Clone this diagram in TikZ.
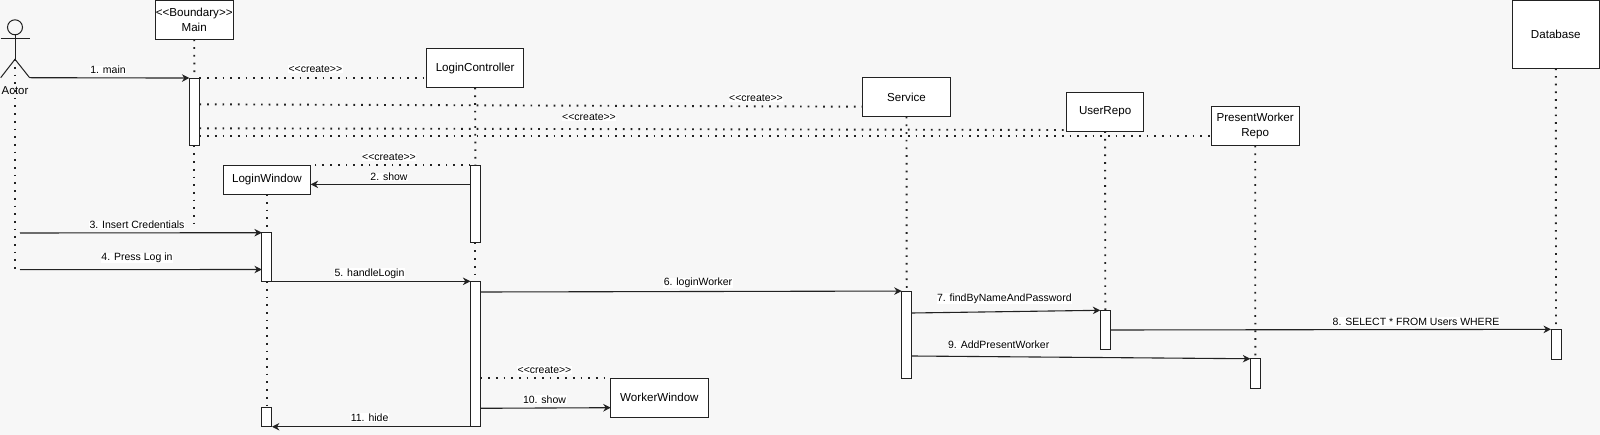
\documentclass[tikz,border=0pt]{standalone}
\usepackage{fontspec}
\setmainfont{Liberation Sans}[Ligatures=TeXOff]
\usetikzlibrary{arrows.meta}
\definecolor{paper}{HTML}{F7F7F7}
\definecolor{ink}{HTML}{222222}
\tikzset{
  objbox/.style={draw=ink,line width=1pt,fill=white,inner sep=0pt,outer sep=0pt,align=center,font=\fontsize{11.6}{14.6}\selectfont},
  actbox/.style={draw=ink,line width=1pt,fill=white,inner sep=0pt,outer sep=0pt,minimum width=10pt},
  msg/.style={draw=ink,line width=1.1pt,-{Stealth[length=7.5pt,width=7.5pt]}},
  life/.style={draw=ink,line width=1.9pt,dash pattern=on 1.7pt off 6pt},
  lbl/.style={fill=white,inner sep=0.5pt,font=\fontsize{10.5}{12}\selectfont}
}
\begin{document}
\begin{tikzpicture}[x=1pt,y=-1pt]
          \path[fill=paper] (0,0) rectangle (1600,435);
          \useasboundingbox (0,0) rectangle (1600,435);

          \node[objbox,minimum width=78pt,minimum height=39.5pt] (main) at (194.2,19.8) {<<Boundary>>\\Main};
          \node[objbox,minimum width=97.5pt,minimum height=39pt] (ctrl) at (475.1,68.2) {LoginController};
          \node[objbox,minimum width=87.6pt,minimum height=39pt] (service) at (906.5,97.2) {Service};
          \node[objbox,minimum width=77.7pt,minimum height=39pt] (userRepo) at (1105.1,111.8) {UserRepo};
          \node[objbox,minimum width=87.7pt,minimum height=39pt] (workerRepo) at (1255.2,126.2) {PresentWorker\\Repo};
          \node[objbox,minimum width=87pt,minimum height=68.3pt] (database) at (1555.8,34.2) {Database};
          \node[objbox,minimum width=87.5pt,minimum height=29.3pt] (loginWin) at (266.9,179.7) {LoginWindow};
          \node[objbox,minimum width=97.3pt,minimum height=39pt] (workerWin) at (659.4,397.5) {WorkerWindow};

          \node[actbox,minimum height=67.7pt] (mainAct) at (194.4,111.9) {};
          \node[actbox,minimum height=77.7pt] (ctrlActA) at (475.4,203.9) {};
          \node[actbox,minimum height=145.4pt] (ctrlActB) at (475.4,354) {};
          \node[actbox,minimum height=48.6pt] (winActA) at (266.9,257) {};
          \node[actbox,minimum height=19.4pt] (winActB) at (266.9,417) {};
          \node[actbox,minimum height=87.3pt] (serviceAct) at (906.7,334.7) {};
          \node[actbox,minimum height=39pt] (userAct) at (1105.3,329.8) {};
          \node[actbox,minimum height=29.3pt] (workerAct) at (1255.3,373.4) {};
          \node[actbox,minimum height=29.7pt] (dbAct) at (1556,344.2) {};

          \node[draw=ink,line width=1pt,circle,inner sep=0pt,outer sep=0pt,minimum size=15pt] (head) at (15,27.3) {};
          \coordinate (handL) at (0.7,39);
          \coordinate (handR) at (29.6,39);
          \coordinate (hip) at (15,59.3);
          \coordinate (footL) at (0.7,77.7);
          \coordinate (footR) at (29.6,77.7);
          \coordinate (actorEnd) at (15,271);
          \coordinate (mainEnd) at (194.4,223);
          \node[font=\fontsize{11.4}{14}\selectfont,inner sep=0pt] (actorLbl) at (15,90.7) {Actor};

          \draw[draw=ink,line width=1pt] (head.south) -- (hip);
          \draw[draw=ink,line width=1pt] (handL) -- (handR);
          \draw[draw=ink,line width=1pt] (footL) -- (hip) -- (footR);

          \draw[life] (hip) -- (actorEnd);
          \draw[life] (main.south) -- (mainAct.north);
          \draw[life] (mainAct.south) -- (mainEnd);
          \draw[life] (ctrl.south) -- (ctrlActA.north);
          \draw[life] (ctrlActA.south) -- (ctrlActB.north);
          \draw[life] (loginWin.south) -- (winActA.north);
          \draw[life] (winActA.south) -- (winActB.north);
          \draw[life] (service.south) -- (serviceAct.north);
          \draw[life] (userRepo.south) -- (userAct.north);
          \draw[life] (workerRepo.south) -- (workerAct.north);
          \draw[life] (database.south) -- (dbAct.north);

          \draw[life] (mainAct.north east) -- (ctrl.west |- mainAct.north east);
          \draw[life] (mainAct.east |- 0,104.3) -- (service.west |- 0,106.7);
          \draw[life] (mainAct.east |- 0,128.3) -- (userRepo.west |- 0,130);
          \draw[life] (mainAct.east |- 0,136) -- (workerRepo.west |- 0,136);
          \draw[life] (ctrlActA.north west) -- (loginWin.north east);
          \draw[life] (ctrlActB.east |- workerWin.north west) -- (workerWin.north west);

          \draw[msg] (footR) -- (mainAct.north west);
          \draw[msg] (ctrlActA.west |- 0,184.4) -- (loginWin.east |- 0,184.4);
          \draw[msg] (actorEnd |- 0,233) ++(5,0) -- (winActA.north west);
          \draw[msg] (actorEnd |- 0,269.7) ++(5,0) -- (winActA.west |- 0,269.5);
          \draw[msg] (winActA.south east) -- (ctrlActB.north west);
          \draw[msg] (ctrlActB.east |- 0,292) -- (serviceAct.north west);
          \draw[msg] (serviceAct.east |- 0,313) -- (userAct.north west);
          \draw[msg] (userAct.east |- 0,330) -- (dbAct.north west);
          \draw[msg] (serviceAct.east |- 0,356) -- (workerAct.north west);
          \draw[msg] (ctrlActB.east |- 0,408.3) -- (workerWin.west |- 0,407.7);
          \draw[msg] (ctrlActB.south east) -- (winActB.south east);

          \node[lbl] (lblMain) at (108,70) {1. main};
          \node[lbl] (lblCrtCtrl) at (315.4,69) {<<create>>};
          \node[lbl] (lblCrtService) at (756,98) {<<create>>};
          \node[lbl] (lblCrtWorker) at (589,117.5) {<<create>>};
          \node[lbl] (lblCrtWin) at (389,157) {<<create>>};
          \node[lbl] (lblShow) at (389,177) {2. show};
          \node[lbl] (lblInsert) at (137,225) {3. Insert Credentials};
          \node[lbl] (lblPress) at (137,258) {4. Press Log in};
          \node[lbl] (lblHandle) at (369.5,273.3) {5. handleLogin};
          \node[lbl] (lblLogin) at (698,283) {6. loginWorker};
          \node[lbl] (lblFind) at (1004.3,298.3) {7. findByNameAndPassword};
          \node[lbl] (lblSelect) at (1416,321.7) {8. SELECT * FROM Users WHERE};
          \node[lbl] (lblAdd) at (998.7,345) {9. AddPresentWorker};
          \node[lbl] (lblCrtWW) at (544.5,370.3) {<<create>>};
          \node[lbl] (lblWShow) at (544.5,399.3) {10. show};
          \node[lbl] (lblHide) at (369.6,417.7) {11. hide};
        \end{tikzpicture}
\end{document}
